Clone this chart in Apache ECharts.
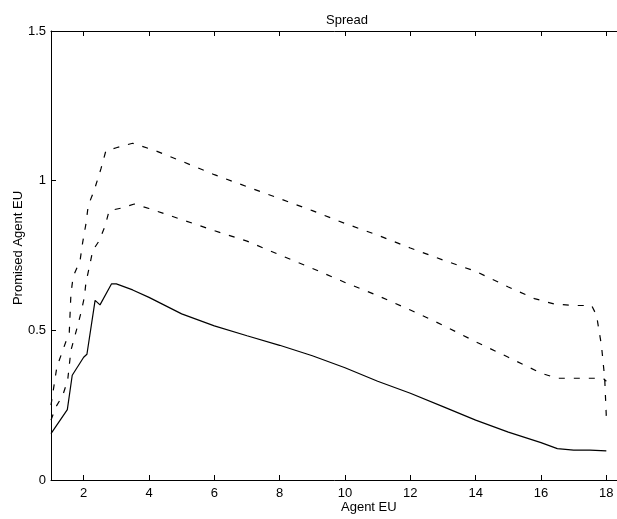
<!DOCTYPE html>
<html>
<head>
<meta charset="utf-8">
<script src="https://cdn.jsdelivr.net/npm/echarts@6/dist/echarts.min.js"></script>
<style>
html,body{margin:0;padding:0;background:#fff;}
#chart{width:617px;height:519px;}
</style>
</head>
<body>
<div id="chart"></div>
<script>
var solidX = [1.0, 1.5, 1.65, 2.0, 2.1, 2.35, 2.5, 2.85, 3.0, 3.5, 4.0, 5.0, 6.0, 7.0, 8.0, 9.0, 10.0, 11.0, 12.0, 13.0, 14.0, 15.0, 16.0, 16.5, 17.0, 17.5, 18.0];
var solidY = [0.155, 0.235, 0.35, 0.41, 0.42, 0.60, 0.585, 0.655, 0.655, 0.635, 0.61, 0.555, 0.515, 0.482, 0.45, 0.415, 0.375, 0.33, 0.29, 0.245, 0.2, 0.16, 0.125, 0.105, 0.1, 0.1, 0.097];
var midX = [1.0, 1.15, 1.36, 1.51, 1.56, 1.61, 1.82, 1.92, 2.02, 2.07, 2.17, 2.28, 2.48, 2.66, 2.78, 3.14, 3.55, 4.0, 5.0, 6.0, 7.0, 8.0, 9.0, 10.0, 11.0, 12.0, 13.0, 14.0, 15.0, 16.0, 16.5, 17.0, 17.9, 18.0];
var midY = [0.2, 0.244, 0.283, 0.333, 0.383, 0.433, 0.517, 0.56, 0.61, 0.66, 0.71, 0.767, 0.8, 0.85, 0.9, 0.908, 0.922, 0.907, 0.87, 0.833, 0.798, 0.752, 0.707, 0.66, 0.616, 0.568, 0.517, 0.462, 0.41, 0.357, 0.34, 0.34, 0.34, 0.33];
var upX = [1.0, 1.18, 1.36, 1.56, 1.61, 1.68, 1.89, 1.97, 2.07, 2.14, 2.32, 2.53, 2.68, 3.0, 3.5, 4.2, 5.0, 6.0, 7.0, 8.0, 9.0, 10.0, 11.0, 12.0, 13.0, 14.0, 15.0, 15.8, 16.4, 17.0, 17.55, 17.7, 17.85, 17.95, 18.0];
var upY = [0.25, 0.378, 0.433, 0.494, 0.622, 0.68, 0.733, 0.794, 0.856, 0.917, 0.967, 1.04, 1.1, 1.11, 1.125, 1.1, 1.065, 1.02, 0.98, 0.94, 0.9, 0.857, 0.818, 0.775, 0.735, 0.697, 0.645, 0.606, 0.588, 0.583, 0.583, 0.55, 0.45, 0.34, 0.21];

var xTicks = [2, 4, 6, 8, 10, 12, 14, 16, 18];
var titleText = 'Spread';
var xName = 'Agent EU';
var yName = 'Promised Agent EU';

function pairs(xs, ys) { return xs.map(function (x, i) { return [x, ys[i]]; }); }

var FONT = '"Liberation Sans", Arial, sans-serif';
var chart = echarts.init(document.getElementById('chart'));

chart.setOption({
  animation: false,
  title: {
    text: titleText, left: 342, top: 9, textAlign: 'center',
    textStyle: {fontFamily: FONT, fontSize: 13, fontWeight: 'normal', color: '#000'}
  },
  // the plot box runs past the right edge of the picture, cropped as in the reference
  grid: {left: 51, right: -22, top: 31, bottom: 39, outerBoundsMode: 'none'},
  xAxis: [{
    type: 'value', min: 1, max: 19, position: 'bottom',
    axisLine: {show: true, lineStyle: {color: '#000', width: 1}},
    axisTick: {show: true, inside: true, length: 5, customValues: xTicks, lineStyle: {color: '#000'}},
    splitLine: {show: false},
    axisLabel: {customValues: xTicks, margin: 7, color: '#000', fontFamily: FONT, fontSize: 13}
  }, {
    type: 'value', min: 1, max: 19, position: 'top',
    axisLine: {show: true, lineStyle: {color: '#000', width: 1}},
    axisTick: {show: true, inside: true, length: 5, customValues: xTicks, lineStyle: {color: '#000'}},
    axisLabel: {show: false}, splitLine: {show: false}
  }],
  yAxis: {
    type: 'value', min: 0, max: 1.5, interval: 0.5,
    axisLine: {show: true, lineStyle: {color: '#000', width: 1}},
    axisTick: {show: true, inside: true, length: 5, lineStyle: {color: '#000'}},
    splitLine: {show: false},
    axisLabel: {margin: 5, color: '#000', fontFamily: FONT, fontSize: 13}
  },
  graphic: [{
    type: 'text', left: 341, top: 501,
    style: {text: xName, textAlign: 'center', fill: '#000', font: '13px ' + FONT}
  }, {
    type: 'text', x: 18, y: 248, rotation: Math.PI / 2,
    style: {text: yName, textAlign: 'center', textVerticalAlign: 'middle', fill: '#000', font: '13px ' + FONT}
  }],
  series: [{
    type: 'line', data: pairs(solidX, solidY), symbol: 'none', clip: false,
    lineStyle: {color: '#000', width: 1.2, type: 'solid'}
  }, {
    type: 'line', data: pairs(midX, midY), symbol: 'none', clip: false,
    lineStyle: {color: '#000', width: 1.2, type: [6, 9]}
  }, {
    type: 'line', data: pairs(upX, upY), symbol: 'none', clip: false,
    lineStyle: {color: '#000', width: 1.2, type: [6, 9]}
  }]
});
</script>
</body>
</html>
